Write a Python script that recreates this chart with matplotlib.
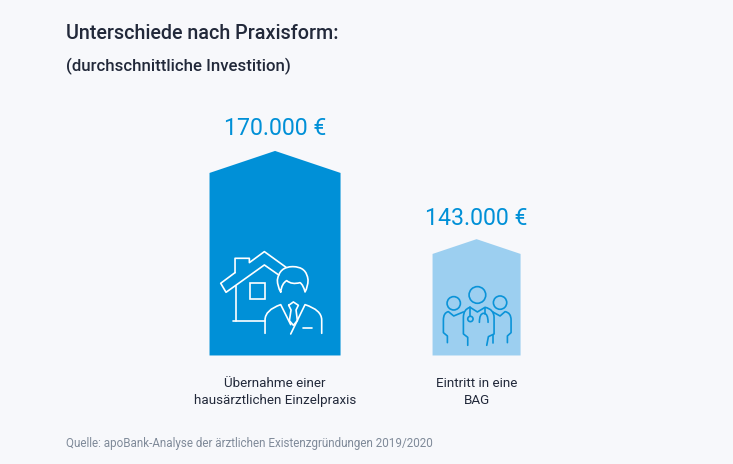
import matplotlib
matplotlib.use('Agg')

import matplotlib.pyplot as plt
from matplotlib.patches import Circle, PathPatch, Polygon, Rectangle
from matplotlib.path import Path

# Data

CATEGORIES = ["Übernahme einer\nhausärztlichen Einzelpraxis", "Eintritt in eine\nBAG"]
VALUES = [170000, 143000]
VALUE_LABELS = ["170.000 €", "143.000 €"]

TITLE = "Unterschiede nach Praxisform:"
SUBTITLE = "(durchschnittliche Investition)"
SOURCE = "Quelle: apoBank-Analyse der ärztlichen Existenzgründungen 2019/2020"

# Layout in pixels

W, H = 733, 464
BASE_PX = 355.5
BASE_VALUE = 107400  # the y axis of the original is cut off
PX_PER_EURO = 204.5 / (170000 - BASE_VALUE)
CENTERS = [275, 476.5]
WIDTHS = [131, 88]
ROOF = 0.168

BG = "#f7f8fb"
BLUE = "#0090d7"
LIGHT = "#9ccff0"
DARK = "#22293a"
GREY = "#7f8a99"
LW = 1.2

plt.rcParams['font.family'] = ['Roboto', 'DejaVu Sans']

fig = plt.figure(figsize=((W + 0.1) / 100, (H + 0.1) / 100), dpi=100, facecolor=BG)

# bars: x in pixels, y in euros
ax = fig.add_axes([0, 0, 1, 1])
ax.set_xlim(0, W)
ax.set_ylim(BASE_VALUE - (H - BASE_PX) / PX_PER_EURO, BASE_VALUE + BASE_PX / PX_PER_EURO)
ax.axis('off')

for val, cx, wd, col in zip(VALUES, CENTERS, WIDTHS, [BLUE, LIGHT]):
    shoulder = val - ROOF * wd / PX_PER_EURO
    ax.add_patch(Polygon([
        (cx - wd / 2, BASE_VALUE),
        (cx - wd / 2, shoulder),
        (cx, val),
        (cx + wd / 2, shoulder),
        (cx + wd / 2, BASE_VALUE),
    ], closed=True, facecolor=col, edgecolor='none'))

# overlay in pixel coordinates for text and icons
ov = fig.add_axes([0, 0, 1, 1])
ov.set_xlim(0, W)
ov.set_ylim(H, 0)
ov.axis('off')
ov.patch.set_alpha(0)

ov.text(66, 33, TITLE, fontsize=14.2, fontweight='medium', color=DARK, va='center')
ov.text(66, 66, SUBTITLE, fontsize=12.1, fontweight='medium', color=DARK, va='center')

for lbl, cx, py in zip(VALUE_LABELS, CENTERS, [128, 218]):
    ov.text(cx, py, lbl, fontsize=16.7, color=BLUE, ha='center', va='center')

for cat, cx in zip(CATEGORIES, CENTERS):
    ov.text(cx, 392, cat, fontsize=9.65, color=DARK, ha='center', va='center', linespacing=1.35)

ov.text(66, 443, SOURCE, fontsize=8.4, color=GREY, va='center')


def stroke(pts, col, off, curves=()):
    """Draw a line through zoomed crop coordinates, indices in curves are bezier controls"""
    verts = [(x / 3 + off[0], y / 3 + off[1]) for x, y in pts]
    codes = [Path.MOVETO] + [Path.LINETO] * (len(pts) - 1)
    for i in curves:
        codes[i] = Path.CURVE3
        codes[i + 1] = Path.CURVE3
    ov.add_patch(PathPatch(Path(verts, codes), fill=False, edgecolor=col, lw=LW,
                           capstyle='round', joinstyle='round'))


# house and doctor icon
off = (190, 230)
col = "white"
stroke([(135, 128), (135, 85), (178, 85), (178, 98), (223, 65), (288, 112)], col, off)
stroke([(135, 128), (92, 160), (108, 187), (223, 105), (266, 135)], col, off)
stroke([(138, 168), (138, 272)], col, off)
stroke([(130, 272), (225, 272)], col, off)
ov.add_patch(Rectangle((179 / 3 + off[0], 160 / 3 + off[1]), 47 / 3, 47 / 3,
                       fill=False, edgecolor=col, lw=LW))
# hair and face
stroke([(272, 186), (262, 170), (262, 150), (268, 110), (308, 110), (350, 110), (354, 150),
        (354, 170), (345, 186), (340, 165), (330, 158), (305, 165), (290, 152), (275, 160), (272, 186)],
       col, off, curves=[1, 3, 5, 7, 9, 11, 13])
# suit
stroke([(225, 310), (225, 270), (225, 240), (272, 224), (302, 284)], col, off, curves=[2])
stroke([(302, 312), (345, 224), (395, 240), (395, 270), (395, 310)], col, off, curves=[2])
stroke([(296, 226), (310, 216), (325, 226), (318, 240), (322, 272), (310, 286), (298, 272),
        (303, 240), (296, 226)], col, off)
stroke([(338, 293), (365, 293)], col, off)

# group of doctors icon
off = (420, 230)
col = "#0a93d8"
for hx, hy, hr in [(172, 195, 25), (101, 220, 20), (240, 218, 20)]:
    ov.add_patch(Circle((hx / 3 + off[0], hy / 3 + off[1]), hr / 3, fill=False, edgecolor=col, lw=LW))
ov.add_patch(Circle((151 / 3 + off[0], 267 / 3 + off[1]), 8 / 3, fill=False, edgecolor=col, lw=LW))
stroke([(143, 346), (143, 322), (130, 312), (130, 262), (130, 238), (150, 232), (172, 246),
        (195, 232), (222, 238), (222, 262), (222, 312), (205, 320), (200, 346)], col, off, curves=[4, 8])
stroke([(151, 232), (151, 259)], col, off)
stroke([(195, 234), (195, 252)], col, off)
stroke([(178, 277), (178, 250), (191, 250), (204, 250), (204, 277)], col, off, curves=[1, 3])
stroke([(82, 338), (82, 318), (70, 308), (70, 270), (70, 248), (85, 245), (101, 258), (130, 246)], col, off, curves=[4])
stroke([(262, 338), (262, 318), (273, 308), (273, 270), (273, 248), (255, 245), (240, 258), (218, 246)], col, off, curves=[4])
stroke([(220, 340), (220, 316)], col, off)

plt.savefig("out.png", dpi=100, facecolor=BG)
plt.clf()
